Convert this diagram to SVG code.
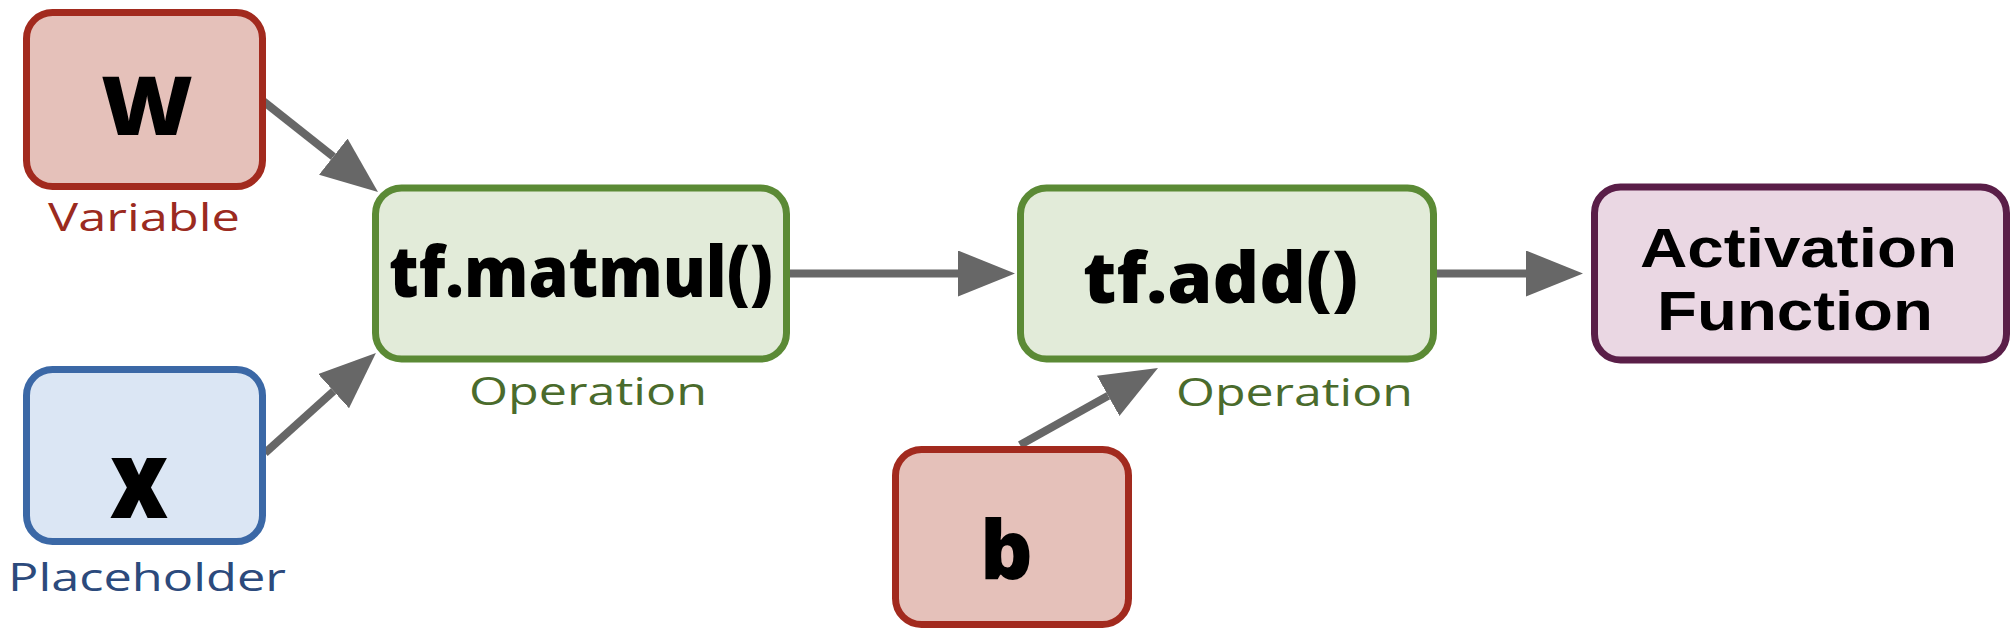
<svg xmlns="http://www.w3.org/2000/svg" width="2016" height="631" viewBox="0 0 2016 631">
<style>
.node{stroke-width:7}
.var{fill:#e5c1ba;stroke:#a22a1e}
.ph{fill:#dbe6f4;stroke:#3b68a6}
.op{fill:#e2ebd9;stroke:#5b8a35}
.act{fill:#ead7e3;stroke:#5a1e48}
.big{font-family:"Open Sans","Liberation Sans",sans-serif;font-weight:800;fill:#000}
.big2{font-family:"Liberation Sans",Arial,sans-serif;font-weight:bold;fill:#000}
.lbl{font-family:"Open Sans","Liberation Sans",sans-serif;font-size:38px}
.conn{stroke:#676767;stroke-width:8;fill:none}
</style>
<defs>
<marker id="ah" markerUnits="userSpaceOnUse" markerWidth="58" markerHeight="48" refX="0" refY="23" orient="auto" viewBox="0 0 58 48">
<path d="M0,0 L57,23 L0,46 Z" fill="#676767"/>
</marker>
</defs>
<rect width="2016" height="631" fill="#ffffff"/>
<g id="connectors">
<line class="conn" x1="263" y1="101" x2="333.3" y2="156.6" marker-end="url(#ah)"/>
<line class="conn" x1="265" y1="453" x2="333.6" y2="391.1" marker-end="url(#ah)"/>
<line class="conn" x1="790" y1="273.5" x2="958" y2="273.5" marker-end="url(#ah)"/>
<line class="conn" x1="1436" y1="273.5" x2="1526" y2="273.5" marker-end="url(#ah)"/>
<line class="conn" x1="1020" y1="445" x2="1108.2" y2="395.8" marker-end="url(#ah)"/>
</g>
<g id="node-W">
<rect class="node var" x="26.5" y="12.5" width="236" height="174" rx="26"/>
<text class="big" x="101" y="135" font-size="81" textLength="92" lengthAdjust="spacingAndGlyphs">W</text>
<text class="lbl" x="48" y="231" fill="#9b2a20" textLength="192" lengthAdjust="spacingAndGlyphs">Variable</text>
</g>
<g id="node-x">
<rect class="node ph" x="26.5" y="369.5" width="236" height="172" rx="26"/>
<text class="big" x="110" y="518" font-size="108" textLength="58" lengthAdjust="spacingAndGlyphs">x</text>
<text class="lbl" x="8" y="591" fill="#2c4a7c" textLength="278" lengthAdjust="spacingAndGlyphs">Placeholder</text>
</g>
<g id="node-matmul">
<rect class="node op" x="375.5" y="188" width="411" height="171" rx="26"/>
<text class="big" x="389" y="297" font-size="70" textLength="384" lengthAdjust="spacingAndGlyphs">tf.matmul()</text>
<text class="lbl" x="469" y="405" fill="#4a6b2c" textLength="238" lengthAdjust="spacingAndGlyphs">Operation</text>
</g>
<g id="node-add">
<rect class="node op" x="1020.5" y="188" width="413" height="171" rx="26"/>
<text class="big" x="1083" y="303" font-size="70" textLength="275" lengthAdjust="spacingAndGlyphs">tf.add()</text>
<text class="lbl" x="1176" y="406" fill="#4a6b2c" textLength="237" lengthAdjust="spacingAndGlyphs">Operation</text>
</g>
<g id="node-activation">
<rect class="node act" x="1594.5" y="187" width="412" height="173" rx="26"/>
<text class="big2" x="1640" y="267" font-size="56" textLength="317" lengthAdjust="spacingAndGlyphs">Activation</text>
<text class="big2" x="1657" y="330" font-size="56" textLength="276" lengthAdjust="spacingAndGlyphs">Function</text>
</g>
<g id="node-b">
<rect class="node var" x="895.5" y="449.5" width="233" height="175" rx="26"/>
<text class="big" x="980" y="579" font-size="82" textLength="53" lengthAdjust="spacingAndGlyphs">b</text>
</g>
</svg>
